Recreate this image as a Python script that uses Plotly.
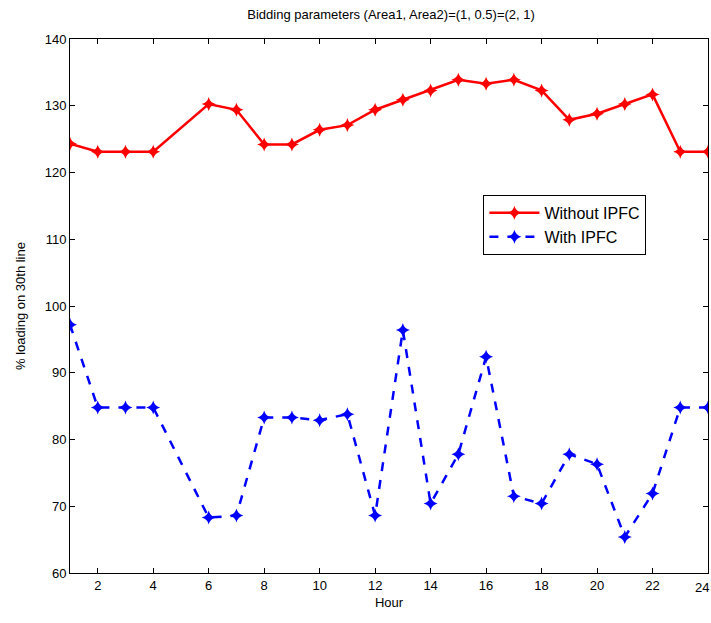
import plotly.graph_objects as go

hours = list(range(1, 25))
without_ipfc = [124.3, 123.1, 123.1, 123.1, 126.7, 130.25, 129.4, 124.2, 124.2, 126.4, 127.1, 129.4,
                130.9, 132.3, 133.9, 133.3, 133.9, 132.3, 127.9, 128.8, 130.25, 131.7, 123.1, 123.1]
with_ipfc = [97.2, 84.8, 84.8, 84.8, 76.5, 68.3, 68.6, 83.3, 83.3, 82.9, 83.8, 68.6,
             96.4, 70.4, 77.8, 92.4, 71.5, 70.4, 77.8, 76.3, 65.4, 71.9, 84.8, 84.8]
# hour 5 has no marker in the reference: line drawn straight from 4 to 6
skip = [5]
xs = [h for h in hours if h not in skip]
red = [v for h, v in zip(hours, without_ipfc) if h not in skip]
blue = [v for h, v in zip(hours, with_ipfc) if h not in skip]

x_ticks = list(range(2, 25, 2))
x_labels = [str(t) for t in x_ticks]
y_ticks = list(range(60, 141, 10))

FONT = "Liberation Sans, Arial"

fig = go.Figure()
fig.add_trace(go.Scatter(x=xs, y=red, mode="lines+markers", name="Without IPFC",
                         line=dict(color="#ff0000", width=2.5),
                         marker=dict(symbol="star-diamond", size=10, color="#ff0000")))
fig.add_trace(go.Scatter(x=xs, y=blue, mode="lines+markers", name="With IPFC",
                         line=dict(color="#0000ff", width=2.5, dash="dash"),
                         marker=dict(symbol="star-diamond", size=10, color="#0000ff")))

axis_common = dict(showgrid=False, zeroline=False, showline=True, linecolor="black", linewidth=1,
                   mirror="allticks", ticks="inside", ticklen=5, tickcolor="black",
                   automargin=False,
                   tickfont=dict(family=FONT, size=13, color="black"))
# last tick label drawn right-aligned (as in the reference) so it stays inside the window
fig.update_xaxes(range=[1, 24], tickvals=x_ticks, ticktext=x_labels[:-1] + [""],
                 title=dict(text="Hour", standoff=6,
                            font=dict(family=FONT, size=13, color="black")), **axis_common)
fig.update_yaxes(range=[60, 140], tickvals=y_ticks, title=dict(text="% loading on 30th line", standoff=16,
                 font=dict(family=FONT, size=13, color="black")), **axis_common)
fig.add_annotation(x=x_ticks[-1], xref="x", xanchor="right", xshift=3,
                   y=0, yref="paper", yanchor="top", yshift=-5,
                   text=x_labels[-1], showarrow=False,
                   font=dict(family=FONT, size=13, color="black"))

fig.update_layout(
    width=711, height=623,
    margin=dict(l=70, r=3, t=39, b=50),
    paper_bgcolor="white", plot_bgcolor="white",
    title=dict(text="Bidding parameters (Area1, Area2)=(1, 0.5)=(2, 1)", x=0.55, xanchor="center",
               y=0.977, yanchor="middle",
               font=dict(family=FONT, size=13, color="black")),
    legend=dict(x=0.648, y=0.708, xanchor="left", yanchor="top", bgcolor="white",
                bordercolor="black", borderwidth=1,
                font=dict(family=FONT, size=16, color="black"),
                itemwidth=50, tracegroupgap=4),
    showlegend=True,
)

fig.write_html("out.html", config={"displayModeBar": False},
               post_script="document.body.style.margin='0';document.body.style.overflow='hidden';")
